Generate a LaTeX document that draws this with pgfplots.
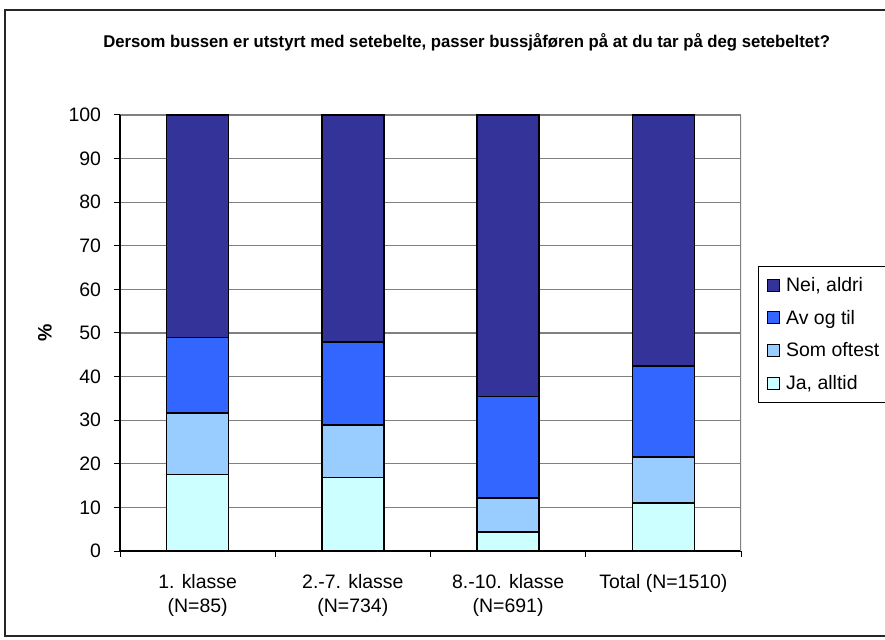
\documentclass[border=0pt]{standalone}
\usepackage{pgfplots}
\pgfplotsset{compat=1.18}
\usepackage{fontspec}
\setmainfont{Liberation Sans}
\usepackage{graphicx}

\definecolor{neiC}{HTML}{333399}
\definecolor{avC}{HTML}{3366FF}
\definecolor{somC}{HTML}{99CCFF}
\definecolor{jaC}{HTML}{CCFFFF}
\definecolor{gridC}{HTML}{808080}

\begin{document}
\begin{tikzpicture}
% page area and outer chart frame
\useasboundingbox (0,0) rectangle (663.75pt,479.25pt);
\draw[line width=1.1pt, black!85] (3.75pt,2.25pt) rectangle (672pt,471.75pt);

% chart title
\node[anchor=base, inner sep=0pt] at (350pt,443.25pt)
  {\resizebox{545pt}{\height}{\fontsize{12.75}{15}\selectfont\bfseries Dersom bussen er utstyrt med setebelte, passer bussjåføren på at du tar på deg setebeltet?}};

\begin{axis}[
  at={(90pt,66pt)}, anchor=south west,
  scale only axis,
  width=465.75pt, height=327pt,
  font=\fontsize{14.6}{18}\selectfont,
  /pgf/number format/assume math mode=true,
  ybar stacked,
  bar width=46.5pt,
  xmin=0.5, xmax=4.5,
  ymin=0, ymax=100,
  axis x line*=bottom, axis y line*=left,
  axis line style={black, line width=0.9pt},
  xtick={1,2,3,4},
  xticklabels={{1. klasse\\(N=85)},{2.-7. klasse\\(N=734)},{8.-10. klasse\\(N=691)},{Total (N=1510)}},
  xticklabel style={align=center, anchor=north, inner sep=0pt, yshift=-17pt},
  ytick={0,10,...,100},
  yticklabel style={anchor=east, inner sep=0pt, xshift=-14pt},
  major tick length=0pt,
  minor xtick={0.5,1.5,2.5,3.5,4.5},
  minor ytick={0,10,...,100},
  minor tick length=4.5pt,
  tick align=outside,
  tick style={black, line width=0.75pt},
  ymajorgrids,
  major grid style={gridC, line width=0.8pt},
  ylabel={\bfseries\%},
  ylabel style={at={(axis description cs:-0.121,0.5)}, anchor=center},
  reverse legend,
  legend cell align=left,
  legend style={at={(axis description cs:1.0274,0.6537)}, anchor=north west,
    draw=black, line width=0.75pt, inner xsep=6pt, inner ysep=6pt, row sep=8.5pt,
    font=\fontsize{14.6}{18}\selectfont},
  legend image code/.code={\draw[#1, draw=black, line width=0.75pt] (0pt,-4.5pt) rectangle (9pt,4.5pt);},
]
\addplot[draw=black, line width=1.1pt, fill=jaC] coordinates {(1,17.6) (2,16.8) (3,4.4) (4,11.0)};
\addplot[draw=black, line width=1.1pt, fill=somC] coordinates {(1,14.0) (2,12.1) (3,7.8) (4,10.6)};
\addplot[draw=black, line width=1.1pt, fill=avC] coordinates {(1,17.4) (2,19.0) (3,23.2) (4,20.8)};
\addplot[draw=black, line width=1.1pt, fill=neiC] coordinates {(1,51.0) (2,52.1) (3,64.6) (4,57.6)};
\legend{{\hspace{3pt}Ja, alltid\hspace{20pt}}, {\hspace{3pt}Som oftest\hspace{20pt}}, {\hspace{3pt}Av og til\hspace{20pt}}, {\hspace{3pt}Nei, aldri\hspace{20pt}}}
% right edge of the plot area
\draw[gridC, line width=0.8pt] (rel axis cs:1,0) -- (rel axis cs:1,1);
\end{axis}
\end{tikzpicture}
\end{document}
